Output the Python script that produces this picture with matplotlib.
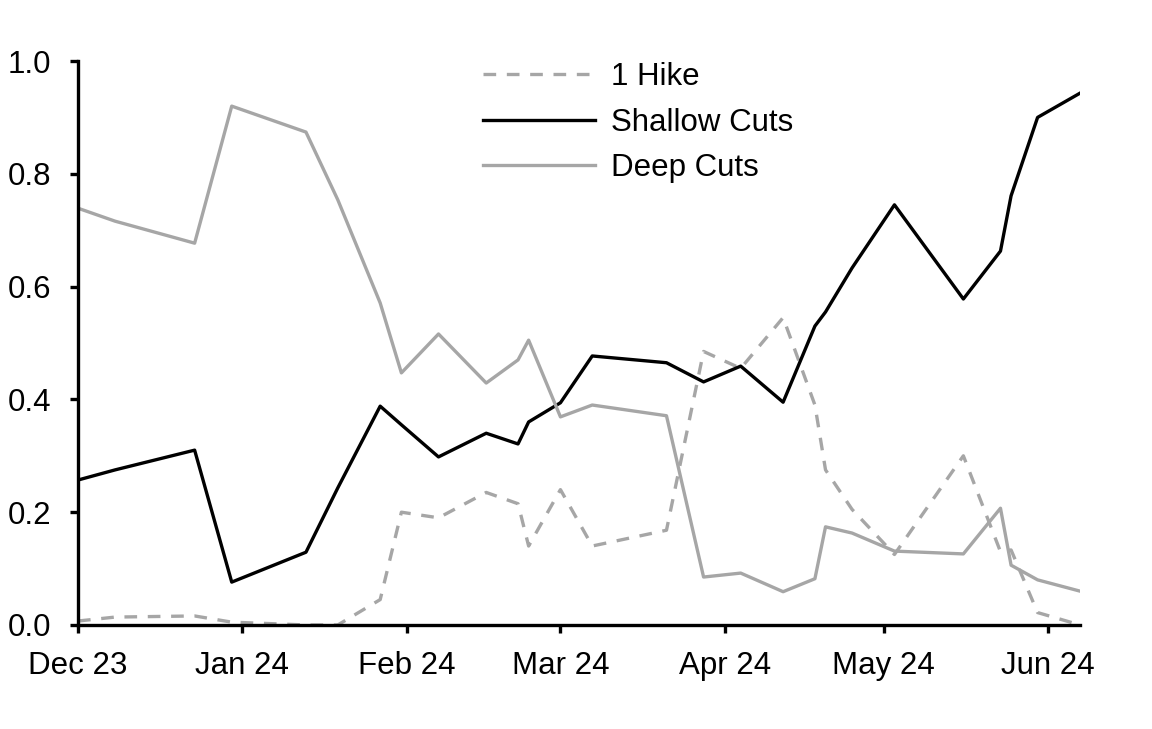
import numpy as np
import pandas as pd
import matplotlib
matplotlib.use("Agg")
import matplotlib.pyplot as plt
import matplotlib.dates as mdates

plt.rcParams['font.family'] = ['Liberation Sans', 'DejaVu Sans']

# observation dates
dates = pd.to_datetime([
    "2023-12-01", "2023-12-08", "2023-12-23", "2023-12-30",
    "2024-01-13", "2024-01-19", "2024-01-27", "2024-01-31",
    "2024-02-07", "2024-02-16", "2024-02-22", "2024-02-24",
    "2024-03-01", "2024-03-07", "2024-03-21", "2024-03-28",
    "2024-04-04", "2024-04-12", "2024-04-18", "2024-04-20",
    "2024-04-25", "2024-05-03", "2024-05-16", "2024-05-23",
    "2024-05-25", "2024-05-30", "2024-06-07",
])

one_hike = [0.007, 0.014, 0.016, 0.005,
            0.0, 0.0, 0.045, 0.20,
            0.19, 0.235, 0.215, 0.14,
            0.24, 0.14, 0.168, 0.485,
            0.455, 0.545, 0.39, 0.275,
            0.205, 0.125, 0.30, 0.13,
            0.133, 0.022, 0.0]

shallow_cuts = [0.257, 0.275, 0.31, 0.076,
                0.129, 0.243, 0.388, 0.355,
                0.298, 0.34, 0.321, 0.36,
                0.394, 0.477, 0.465, 0.431,
                0.459, 0.395, 0.53, 0.555,
                0.633, 0.745, 0.578, 0.663,
                0.761, 0.90, 0.943]

deep_cuts = [0.739, 0.716, 0.677, 0.92,
             0.874, 0.754, 0.571, 0.447,
             0.516, 0.429, 0.47, 0.505,
             0.369, 0.39, 0.371, 0.085,
             0.092, 0.059, 0.082, 0.174,
             0.163, 0.131, 0.126, 0.207,
             0.106, 0.08, 0.06]

grey = "#A6A6A6"
fs = 22.5

fig = plt.figure(figsize=(11.52, 7.29), dpi=100)
ax = fig.add_axes([0.0677, 0.1427, 0.8698, 0.7736])

ax.plot(dates, one_hike, color=grey, lw=2.4, linestyle=(0, (3.8, 3.2)), label="1 Hike")
ax.plot(dates, shallow_cuts, color="black", lw=2.4, label="Shallow Cuts")
ax.plot(dates, deep_cuts, color=grey, lw=2.4, label="Deep Cuts")

ax.set_xlim(pd.Timestamp("2023-12-01"), pd.Timestamp("2024-06-07"))
ax.set_ylim(0, 1.0)
ax.set_yticks([0.0, 0.2, 0.4, 0.6, 0.8, 1.0])
ax.yaxis.set_major_formatter(matplotlib.ticker.FormatStrFormatter("%.1f"))
ax.xaxis.set_major_locator(mdates.MonthLocator())
ax.xaxis.set_major_formatter(mdates.DateFormatter("%b %y"))

for s in ["top", "right"]:
    ax.spines[s].set_visible(False)
for s in ["left", "bottom"]:
    ax.spines[s].set_linewidth(2.4)
ax.tick_params(axis="both", labelsize=fs, width=2.4, length=6, direction="out")
ax.tick_params(axis="x", pad=13)
ax.tick_params(axis="y", pad=13)

ax.legend(loc="upper left", bbox_to_anchor=(0.376, 1.048), frameon=False, fontsize=fs,
          handlelength=3.6, handletextpad=0.5, labelspacing=0.5)

plt.savefig("out.png", dpi=100)
